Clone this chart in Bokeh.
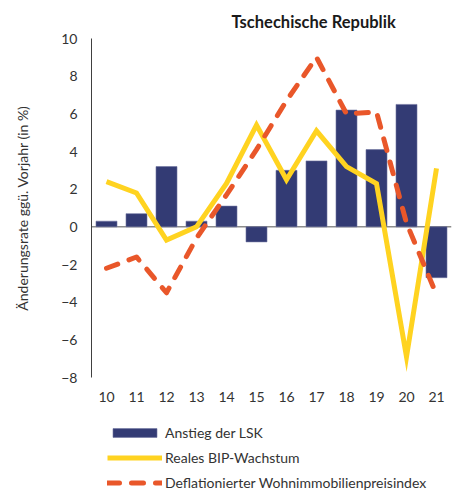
from bokeh.plotting import figure
from bokeh.layouts import column
from bokeh.models import Legend, LegendItem, Span, FactorRange, FixedTicker
from bokeh.embed import file_html
from bokeh.resources import INLINE

years = ["10", "11", "12", "13", "14", "15", "16", "17", "18", "19", "20", "21"]
lsk = [0.3, 0.7, 3.2, 0.3, 1.1, -0.8, 3.0, 3.5, 6.2, 4.1, 6.5, -2.7]
bip = [2.4, 1.8, -0.7, 0.0, 2.3, 5.4, 2.5, 5.1, 3.2, 2.3, -6.9, 3.1]
hpi = [-2.2, -1.6, -3.5, -0.6, 1.7, 4.1, 6.7, 9.0, 6.0, 6.1, 0.2, -3.6]
y_ticks = [-8, -6, -4, -2, 0, 2, 4, 6, 8, 10]
labels = ["Anstieg der LSK", "Reales BIP-Wachstum", "Deflationierter Wohnimmobilienpreisindex"]

FONT = "Lato"
TXT = "#333333"
NAVY = "#333B74"
YEL = "#FFD320"
RED = "#E9572A"

xr = FactorRange(*years, range_padding=0)
xr.factor_padding = 0

p = figure(frame_width=360, frame_height=339, x_range=xr,
           y_range=(-8, 10), output_backend="svg", toolbar_location=None,
           min_border_left=91, min_border_right=2, min_border_top=38, min_border_bottom=29)
p.outline_line_color = None
p.xgrid.visible = False
p.ygrid.visible = False

p.title.text = "Tschechische Republik"
p.title.align = "left"
p.title.offset = 140
p.title.text_font = FONT
p.title.text_font_size = "16.5px"
p.title.text_font_style = "bold"
p.title.text_color = "#1a1a1a"
p.title.standoff = 14

zero = Span(location=0, dimension="width", line_color="#8c8c8c", line_width=1.5, level="underlay")
p.add_layout(zero)

bar_style = dict(fill_color=NAVY, line_color="#6e74a0", line_width=0.6)
yel_style = dict(line_color=YEL, line_width=5, line_join="miter")
red_style = dict(line_color=RED, line_width=5, line_dash="12 12", line_cap="round", line_join="round")

p.vbar(x=years, top=lsk, width=0.7, **bar_style)
p.line(x=years, y=bip, **yel_style)
p.line(x=years, y=hpi, **red_style)

yax = p.yaxis[0]
yax.ticker = FixedTicker(ticks=y_ticks)
yax.axis_line_color = "#404040"
yax.axis_line_width = 1
yax.major_tick_line_color = None
yax.minor_tick_line_color = None
yax.major_tick_out = 0
yax.major_tick_in = 0
yax.minor_tick_out = 0
yax.major_label_standoff = 14
yax.major_label_text_font = FONT
yax.major_label_text_font_size = "14px"
yax.major_label_text_color = TXT
yax.axis_label = "Änderungsrate ggü. Vorjahr (in %)"
yax.axis_label_text_font = FONT
yax.axis_label_text_font_size = "14px"
yax.axis_label_text_font_style = "normal"
yax.axis_label_text_color = TXT
yax.axis_label_standoff = 27

xax = p.xaxis[0]
xax.axis_line_color = None
xax.major_tick_line_color = None
xax.minor_tick_line_color = None
xax.major_tick_out = 0
xax.major_tick_in = 0
xax.major_label_standoff = 14
xax.major_label_text_font = FONT
xax.major_label_text_font_size = "14px"
xax.major_label_text_color = TXT

# legend strip below the chart; its renderers hold the same series but are hidden
lg = figure(frame_width=360, height=85, x_range=xr, y_range=(-8, 10), output_backend="svg",
            toolbar_location=None, min_border_left=91, min_border_right=2,
            min_border_top=0, min_border_bottom=0)
lg.axis.visible = False
lg.xgrid.visible = False
lg.ygrid.visible = False
lg.outline_line_color = None
r1 = lg.vbar(x=years, top=lsk, width=0.7, visible=False, **bar_style)
r2 = lg.line(x=years, y=bip, visible=False, **yel_style)
r3 = lg.line(x=years, y=hpi, visible=False, **red_style)

legend = Legend(items=[
    LegendItem(label=labels[0], renderers=[r1]),
    LegendItem(label=labels[1], renderers=[r2]),
    LegendItem(label=labels[2], renderers=[r3]),
], location=(16, 0), orientation="vertical")
legend.border_line_color = None
legend.background_fill_alpha = 0
legend.margin = 0
legend.padding = 0
legend.spacing = 7
legend.glyph_width = 55
legend.glyph_height = 11
legend.label_height = 18
legend.label_standoff = 3
legend.label_text_font = FONT
legend.label_text_font_size = "14px"
legend.label_text_color = TXT
legend.click_policy = "none"
lg.add_layout(legend)

layout = column(p, lg, spacing=0)
open("out.html", "w").write(file_html(layout, INLINE))
